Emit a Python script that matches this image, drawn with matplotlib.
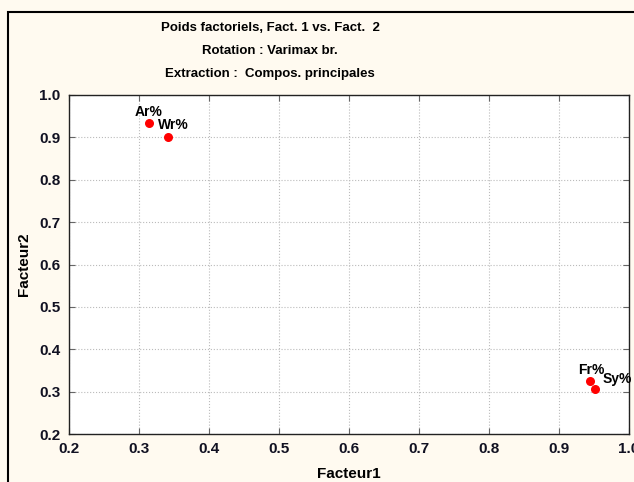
import matplotlib
matplotlib.use('Agg')
import matplotlib.pyplot as plt
from matplotlib.patches import Rectangle

plt.rcParams['font.family'] = ['Liberation Sans', 'DejaVu Sans']

# poids factoriels (Fact. 1, Fact. 2)
labels = ['Ar%', 'Wr%', 'Fr%', 'Sy%']
fact1 = [0.314, 0.341, 0.944, 0.951]
fact2 = [0.933, 0.902, 0.325, 0.307]
ticks = [0.2, 0.3, 0.4, 0.5, 0.6, 0.7, 0.8, 0.9, 1.0]
titles = ['Poids factoriels, Fact. 1 vs. Fact.  2',
          'Rotation : Varimax br.',
          'Extraction :  Compos. principales']

W, H = 634, 482
fig = plt.figure(figsize=(W / 100, H / 100), dpi=100)
fig.patch.set_facecolor('#fffaf0')
# cadre noir autour du graphique (coupé à droite et en bas)
fig.patches.append(Rectangle((8 / W, -0.1), 1.2, 1.1 - 12 / H, transform=fig.transFigure,
                             fill=False, edgecolor='black', linewidth=1.5))

ax = fig.add_axes([69 / W, 1 - 434 / H, (629 - 69) / W, (434 - 95) / H])
ax.set_facecolor('white')
ax.scatter(fact1, fact2, s=30, color='#ff0000', zorder=3)

# placement des étiquettes (points)
offsets = [(0, 3), (4, 3), (1, 3), (6, 2)]
aligns = ['center', 'center', 'center', 'left']
for lab, x, y, (dx, dy), ha in zip(labels, fact1, fact2, offsets, aligns):
    ax.annotate(lab, (x, y), xytext=(dx, dy), textcoords='offset points',
                fontsize=10, fontweight='bold', ha=ha, va='bottom')

ax.set_xlim(0.2, 1.0)
ax.set_ylim(0.2, 1.0)
ax.set_xticks(ticks)
ax.set_yticks(ticks)
ax.set_xticklabels(['%.1f' % t for t in ticks], fontweight='bold', fontsize=11)
ax.set_yticklabels(['%.1f' % t for t in ticks], fontweight='bold', fontsize=11)
ax.tick_params(direction='in', top=True, right=True, length=4, pad=6,
               color='#666666', labelcolor='#111122')
ax.grid(True, linestyle=':', color='#bbbbbb', linewidth=0.8)
for s in ax.spines.values():
    s.set_linewidth(1.0)
    s.set_color('#222222')

ax.set_xlabel('Facteur1', fontweight='bold', fontsize=11, labelpad=8)
ax.set_ylabel('Facteur2', fontweight='bold', fontsize=11, labelpad=6)

for i, t in enumerate(titles):
    fig.text(270 / W, 1 - (28 + 23 * i) / H, t, ha='center', va='center',
             fontweight='bold', fontsize=9.5)

fig.savefig('out.png', dpi=100, facecolor=fig.get_facecolor())
